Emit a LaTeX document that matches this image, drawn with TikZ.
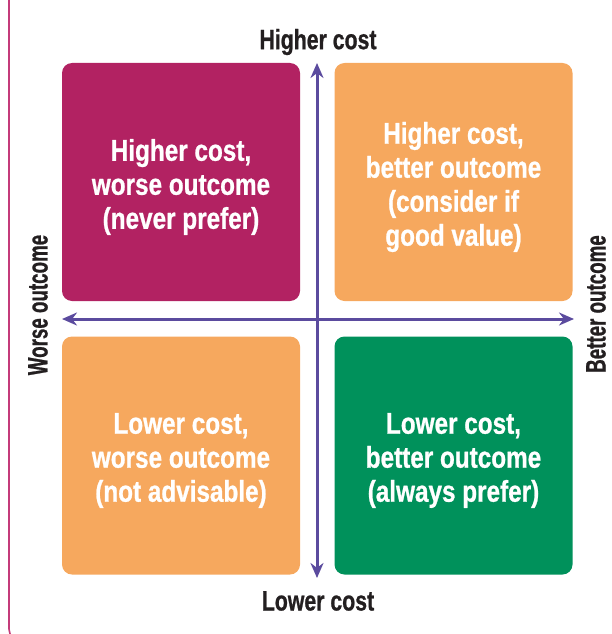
\documentclass[tikz,border=0pt]{standalone}
\usepackage{fontspec}
\setmainfont{Liberation Sans}[FakeStretch=0.81, BoldFeatures={FakeBold=0.8}]
\newfontfamily\axisfont{Liberation Sans}[FakeStretch=0.76, BoldFeatures={FakeBold=0.8}]
\newfontfamily\axisvfont{Liberation Sans}[FakeStretch=0.67, BoldFeatures={FakeBold=0.8}]
\usetikzlibrary{arrows.meta}
\definecolor{qmag}{HTML}{B22262}
\definecolor{qorange}{HTML}{F6A85E}
\definecolor{qgreen}{HTML}{00915B}
\definecolor{qpurple}{HTML}{5B4B9E}
\definecolor{qframe}{HTML}{C43B7A}
\definecolor{qtext}{HTML}{231F20}
\tikzset{
  quad/.style={rounded corners=10pt, minimum width=238pt, minimum height=238pt, inner sep=0pt},
  quadtext/.style={text=white, align=center, inner sep=0pt, yshift=-5pt, font=\bfseries\fontsize{30}{34}\selectfont},
  axislabel/.style={text=qtext, inner sep=0pt, font=\axisfont\bfseries\fontsize{28}{30}\selectfont},
  axisvlabel/.style={text=qtext, inner sep=0pt, rotate=90, font=\axisvfont\bfseries\fontsize{28}{30}\selectfont},
  axisarrow/.style={draw=qpurple, line width=3pt, {Stealth[length=15pt,width=13pt]}-{Stealth[length=15pt,width=13pt]}}
}
\begin{document}
\begin{tikzpicture}[x=1pt,y=-1pt]
\useasboundingbox (0,0) rectangle (611,634);
\draw[qframe, line width=1.6pt, rounded corners=12pt] (9,-5) -- (9,641) -- (80,641);
\node[quad, fill=qmag] (tl) at (181,182) {};
\node[quad, fill=qorange] (tr) at (453.5,182) {};
\node[quad, fill=qorange] (bl) at (181,455.5) {};
\node[quad, fill=qgreen] (br) at (453.5,455.5) {};
\node[quadtext] (tlt) at (tl.center) {Higher cost,\\worse outcome\\(never prefer)};
\node[quadtext] (trt) at (tr.center) {Higher cost,\\better outcome\\(consider if\\good value)};
\node[quadtext] (blt) at (bl.center) {Lower cost,\\worse outcome\\(not advisable)};
\node[quadtext] (brt) at (br.center) {Lower cost,\\better outcome\\(always prefer)};
\coordinate (vtop) at (317,63);
\coordinate (vbot) at (317,578);
\coordinate (hleft) at (62,319);
\coordinate (hright) at (574,319);
\draw[axisarrow] (vbot) -- (vtop);
\draw[axisarrow] (hleft) -- (hright);
\node[axislabel] (hc) at (318,42) {Higher cost};
\node[axislabel] (lc) at (318,601) {Lower cost};
\node[axisvlabel] (wo) at (38,305) {Worse outcome};
\node[axisvlabel] (bo) at (596,304) {Better outcome};
\end{tikzpicture}
\end{document}
